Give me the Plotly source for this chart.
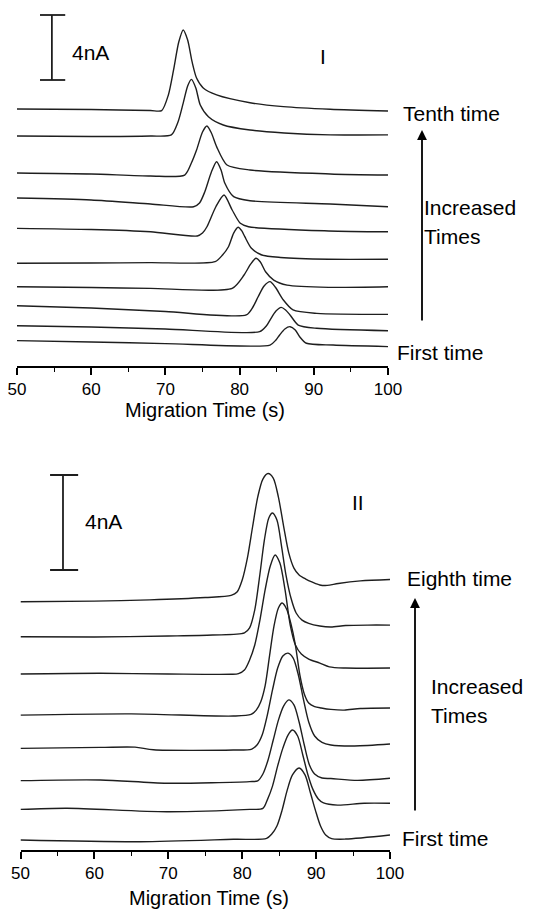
import plotly.graph_objects as go

W, H = 533, 911

# ---------------- Panel I data (time s, current nA incl. stacking offset) ----------------
top_t1 = [50, 60, 70, 84.1, 84.9, 85.4, 86.1, 86.8, 87.5, 88.1, 89.0, 92.6, 100]
top_v1 = [1.56, 1.48, 1.38, 1.29, 1.60, 1.91, 2.28, 2.42, 2.22, 1.80, 1.40, 1.29, 1.19]
top_t2 = [50, 60, 70, 82.7, 83.6, 84.1, 84.9, 85.6, 86.2, 86.8, 87.9, 90.4, 100]
top_v2 = [2.48, 2.40, 2.28, 2.11, 2.46, 2.83, 3.38, 3.61, 3.45, 3.14, 2.52, 2.32, 2.17]
top_t3 = [50, 60, 70, 80.9, 81.8, 82.5, 83.3, 84.1, 84.8, 85.9, 87.2, 90.4, 100]
top_v3 = [3.71, 3.57, 3.35, 3.14, 3.63, 4.26, 4.92, 5.19, 4.86, 4.06, 3.45, 3.24, 3.18]
top_t4 = [50, 60, 68, 79.0, 80.6, 81.5, 82.2, 82.8, 83.5, 84.6, 86.4, 92, 100]
top_v4 = [4.88, 4.83, 4.78, 4.78, 5.60, 6.28, 6.63, 6.40, 5.80, 5.29, 4.98, 4.84, 4.88]
top_t5 = [50, 60, 68, 76.7, 77.7, 78.5, 79.2, 79.8, 80.3, 80.7, 81.6, 83.0, 85.5, 92, 100]
top_v5 = [6.32, 6.34, 6.36, 6.42, 6.83, 7.34, 8.18, 8.54, 8.31, 7.96, 7.24, 6.83, 6.68, 6.57, 6.57]
top_t6 = [50, 60, 68, 74.3, 75.0, 75.6, 76.8, 77.9, 79.0, 80.1, 81.2, 92, 100]
top_v6 = [8.47, 8.40, 8.26, 8.00, 8.18, 8.57, 9.80, 10.52, 9.60, 8.78, 8.57, 8.31, 8.26]
top_t7 = [50, 60, 68, 73.8, 74.6, 75.3, 76.2, 76.9, 77.5, 78.0, 79.2, 81.4, 92.2, 100]
top_v7 = [10.34, 10.22, 9.97, 9.80, 10.03, 10.71, 11.94, 12.57, 12.06, 11.26, 10.42, 10.17, 9.97, 9.80]
top_t8 = [50, 60, 68, 72.6, 73.5, 74.2, 75.0, 75.6, 76.2, 76.9, 78.3, 81.4, 92.2, 100]
top_v8 = [11.88, 11.82, 11.69, 11.75, 12.49, 13.29, 14.40, 14.77, 14.34, 13.50, 12.37, 12.06, 11.82, 11.75]
top_t9 = [50, 60, 68, 70.8, 71.7, 72.4, 73.0, 73.5, 74.1, 74.7, 75.8, 77.8, 81.4, 86, 92.2, 100]
top_v9 = [14.15, 14.12, 14.15, 14.22, 15.02, 16.18, 17.23, 17.64, 17.11, 16.06, 15.34, 14.83, 14.52, 14.34, 14.22, 14.22]
top_t10 = [50, 60, 68, 69.5, 70.4, 71.1, 71.8, 72.4, 73.0, 73.6, 74.2, 75.1, 76.9, 81.4, 85.9, 92.2, 100]
top_v10 = [15.82, 15.78, 15.72, 15.72, 16.68, 18.22, 19.94, 20.68, 20.06, 18.71, 17.72, 17.11, 16.68, 16.20, 15.96, 15.80, 15.69]

# ---------------- Panel II data ----------------
bot_t1 = [50, 66.2, 78.8, 83.3, 84.0, 84.7, 85.4, 86.1, 86.8, 87.7, 88.5, 89.2, 89.9, 90.6, 91.3, 92.1, 94, 100]
bot_v1 = [0.42, 0.35, 0.45, 0.49, 0.67, 1.01, 1.68, 2.53, 3.16, 3.45, 3.16, 2.44, 1.68, 1.01, 0.63, 0.48, 0.46, 0.63]
bot_t2 = [50, 56.3, 69.8, 81.0, 82.8, 83.4, 84.1, 84.8, 85.5, 86.2, 86.8, 87.5, 88.2, 88.9, 89.6, 90.3, 91.0, 92.9, 96.5, 100]
bot_v2 = [1.71, 1.76, 1.61, 1.71, 1.75, 2.11, 2.69, 3.54, 4.29, 4.84, 5.05, 4.80, 4.00, 3.16, 2.53, 2.15, 1.98, 1.89, 1.97, 1.97]
bot_t3 = [50, 60.8, 69.8, 81.0, 82.1, 82.8, 83.5, 84.2, 84.9, 85.6, 86.3, 87.0, 87.7, 88.4, 89.1, 89.8, 90.8, 92.0, 95.6, 100]
bot_v3 = [2.92, 2.95, 2.81, 2.88, 2.91, 3.20, 3.79, 4.63, 5.47, 6.06, 6.32, 6.11, 5.39, 4.42, 3.58, 3.20, 3.03, 3.01, 2.93, 3.02]
bot_t4 = [50, 60.8, 65.5, 68, 78.8, 81.3, 82.0, 82.7, 83.4, 84.1, 84.8, 85.5, 86.2, 86.9, 87.6, 88.3, 89.0, 89.8, 90.8, 92.0, 95.2, 100]
bot_v4 = [4.28, 4.32, 4.33, 4.22, 4.21, 4.25, 4.42, 4.84, 5.68, 6.74, 7.66, 8.17, 8.29, 8.08, 7.37, 6.32, 5.39, 4.80, 4.53, 4.42, 4.38, 4.46]
bot_t5 = [50, 65, 78.8, 81.2, 81.9, 82.5, 83.1, 83.7, 84.3, 84.9, 85.4, 86.0, 86.6, 87.2, 87.8, 88.4, 89.0, 89.8, 90.7, 92, 93.8, 96, 100]
bot_v5 = [5.68, 5.73, 5.64, 5.71, 5.89, 6.23, 6.91, 8.17, 9.43, 10.19, 10.40, 10.15, 9.52, 8.63, 7.37, 6.57, 6.19, 6.04, 5.98, 5.92, 5.89, 5.96, 5.98]
bot_t6 = [50, 60.8, 70, 78.5, 79.5, 80.3, 81.0, 81.7, 82.4, 83.1, 83.8, 84.45, 85.1, 85.8, 86.5, 87.2, 88.0, 89.0, 90.5, 91.8, 94, 100]
bot_v6 = [7.41, 7.44, 7.41, 7.40, 7.43, 7.58, 8.00, 8.63, 9.68, 10.95, 11.96, 12.42, 12.08, 10.95, 9.47, 8.63, 8.25, 8.04, 7.87, 7.71, 7.66, 7.66]
bot_t7 = [50, 60, 70, 76, 80.3, 81.0, 81.7, 82.4, 83.0, 83.6, 84.1, 84.7, 85.3, 85.9, 86.6, 87.3, 88.1, 89, 90.5, 92, 94, 97, 100]
bot_v7 = [8.98, 8.97, 9.01, 9.05, 9.14, 9.35, 10.11, 11.62, 13.05, 13.98, 14.19, 13.89, 12.84, 11.62, 10.61, 9.98, 9.68, 9.54, 9.43, 9.39, 9.45, 9.47, 9.47]
bot_t8 = [50, 60, 67.5, 75, 78.5, 79.3, 80.0, 80.7, 81.4, 82.1, 82.8, 83.5, 84.2, 84.9, 85.6, 86.3, 87.0, 87.7, 88.6, 89.5, 90.5, 91.5, 93, 96, 100]
bot_v8 = [10.45, 10.48, 10.53, 10.63, 10.72, 10.86, 11.37, 12.29, 13.60, 14.86, 15.62, 15.85, 15.66, 14.86, 13.64, 12.51, 11.87, 11.58, 11.41, 11.28, 11.16, 11.14, 11.22, 11.33, 11.39]

top_traces = [(top_t1, top_v1), (top_t2, top_v2), (top_t3, top_v3), (top_t4, top_v4), (top_t5, top_v5),
              (top_t6, top_v6), (top_t7, top_v7), (top_t8, top_v8), (top_t9, top_v9), (top_t10, top_v10)]
bot_traces = [(bot_t1, bot_v1), (bot_t2, bot_v2), (bot_t3, bot_v3), (bot_t4, bot_v4),
              (bot_t5, bot_v5), (bot_t6, bot_v6), (bot_t7, bot_v7), (bot_t8, bot_v8)]

x_ticks = [50, 60, 70, 80, 90, 100]
scale_nA = 4

FONT = "Liberation Sans, Arial, sans-serif"
LINE = "#1e1e1e"

# pixel geometry helpers (layout only)
def px(xp):
    return xp / W

def py(yp):
    return 1 - yp / H

top_axis_px, top_top_px = 366, 0
bot_axis_px, bot_top_px = 850, 440
top_ppn = 16.25   # px per nA
bot_ppn = 23.75

fig = go.Figure()
for t, v in top_traces:
    fig.add_trace(go.Scatter(x=t, y=v, mode="lines", xaxis="x", yaxis="y",
                             line=dict(color=LINE, width=1.4, shape="spline", smoothing=0.7),
                             showlegend=False, hoverinfo="skip"))
for t, v in bot_traces:
    fig.add_trace(go.Scatter(x=t, y=v, mode="lines", xaxis="x2", yaxis="y2",
                             line=dict(color=LINE, width=1.4, shape="spline", smoothing=0.8),
                             showlegend=False, hoverinfo="skip"))

xcommon = dict(range=[50, 100], tickvals=x_ticks, ticks="outside", ticklen=7, tickwidth=1.6,
               tickcolor="black", showline=True, linecolor="black", linewidth=1.8,
               showgrid=False, zeroline=False, fixedrange=True, automargin=False,
               tickfont=dict(family=FONT, size=17, color="black"),
               minor=dict(dtick=5, tick0=50, ticks="outside", ticklen=4, tickwidth=1.4,
                          tickcolor="black", showgrid=False))
ycommon = dict(visible=False, showgrid=False, zeroline=False, fixedrange=True, automargin=False)

fig.update_layout(
    template="none",
    width=W, height=H, margin=dict(l=0, r=0, t=0, b=0, pad=0),
    paper_bgcolor="white", plot_bgcolor="white",
    xaxis=dict(domain=[px(17), px(388)], anchor="y", **xcommon),
    yaxis=dict(domain=[py(top_axis_px), py(top_top_px)], anchor="x",
               range=[0, (top_axis_px - top_top_px) / top_ppn], **ycommon),
    xaxis2=dict(domain=[px(20.5), px(390)], anchor="y2", **xcommon),
    yaxis2=dict(domain=[py(bot_axis_px), py(bot_top_px)], anchor="x2",
                range=[0, (bot_axis_px - bot_top_px) / bot_ppn], **ycommon),
)

# scale bars (4 nA)
def scale_bar(xref, yref, xc, x0, x1, ybot):
    fig.add_shape(type="line", xref=xref, yref=yref, x0=xc, x1=xc, y0=ybot, y1=ybot + scale_nA,
                  line=dict(color=LINE, width=1.8))
    for yy in (ybot, ybot + scale_nA):
        fig.add_shape(type="line", xref=xref, yref=yref, x0=x0, x1=x1, y0=yy, y1=yy,
                      line=dict(color=LINE, width=1.8))

scale_bar("x", "y", 54.7, 53.1, 56.5, 17.6)
scale_bar("x2", "y2", 55.75, 54.0, 57.8, 11.79)

def text(xp, yp, s, size=21, xanchor="left"):
    fig.add_annotation(x=px(xp), y=py(yp), xref="paper", yref="paper", text=s, showarrow=False,
                       xanchor=xanchor, yanchor="middle", borderpad=0, borderwidth=0,
                       font=dict(family=FONT, size=size, color="black"))

# panel I labels
text(72, 53, "4nA")
text(323, 57, "I", xanchor="center")
text(403, 113, "Tenth time")
text(424, 207, "Increased")
text(424, 236, "Times")
text(397, 352, "First time")
text(205, 410, "Migration Time (s)", size=20, xanchor="center")

# panel II labels
text(85, 521, "4nA")
text(358, 502, "II", xanchor="center")
text(407, 578, "Eighth time")
text(431, 686, "Increased")
text(431, 715, "Times")
text(402, 838, "First time")
text(209, 898, "Migration Time (s)", size=20, xanchor="center")

# arrows
def arrow(xp, y_tip, y_tail):
    fig.add_annotation(x=px(xp), y=py(y_tip), xref="paper", yref="paper", text="",
                       showarrow=True, ax=0, ay=y_tail - y_tip, arrowhead=2, arrowsize=1.1,
                       arrowwidth=1.8, arrowcolor="black")

arrow(422, 130, 322)
arrow(415, 598, 812)

fig.write_html("out.html")
